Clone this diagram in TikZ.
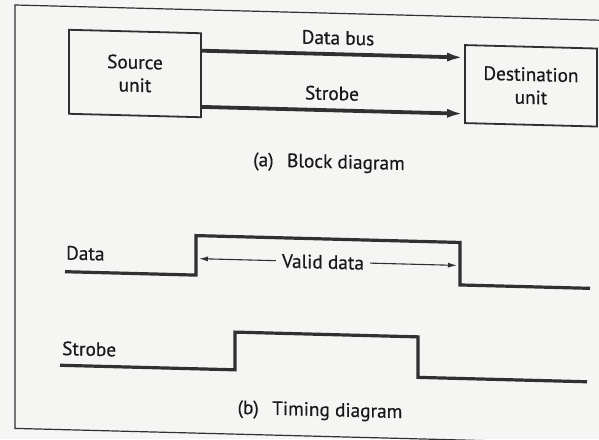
\documentclass[tikz,border=0pt]{standalone}
\usepackage{fontspec}
\setmainfont{PT Sans}
\newfontfamily\printfont{PT Sans}[FakeBold=0.5]
\usetikzlibrary{arrows.meta,calc}
\definecolor{paper}{RGB}{245,245,243}
\definecolor{ink}{RGB}{48,48,48}
\definecolor{inktext}{RGB}{25,25,25}
\tikzset{
  lbl/.style={font=\printfont\fontsize{19.3}{23}\selectfont, text=inktext, inner sep=0pt},
  unitbox/.style={lbl, draw=ink, line width=1.8pt, minimum width=132pt, align=center},
  bus/.style={draw=ink, line width=3.8pt, -{Latex[length=17pt,width=9pt]}},
  wave/.style={draw=ink, line width=3.2pt, line join=miter},
  span/.style={draw=ink, line width=1.1pt, -{Latex[length=9pt,width=5pt]}},
  frame/.style={draw=ink, line width=1.2pt},
}
\begin{document}
\begin{tikzpicture}[x=1pt,y=-1pt]
\useasboundingbox (0,0) rectangle (599,439);
\fill[paper] (0,0) rectangle (599,439);
\clip (0,0) rectangle (599,439);
% the printed figure sits slightly skewed on the page
\begin{scope}[cm={1,-0.026,0,1,(0,0)}, transform shape]
  \draw[frame] (15,4.6) rectangle (660,428);

  % (a) block diagram
  \node[unitbox, minimum height=84pt] (src) at (135,70) {Source\\unit};
  \node[unitbox, minimum height=78pt] (dst) at (531,72) {Destination\\unit};
  \draw[bus] ($(src.north east)!0.214!(src.south east)$) -- ($(dst.north west)!0.167!(dst.south west)$);
  \draw[bus] ($(src.north east)!0.869!(src.south east)$) -- ($(dst.north west)!0.872!(dst.south west)$);
  \node[lbl, anchor=base] (buslbl) at (338,35.7) {Data bus};
  \node[lbl, anchor=base] (strlbl) at (332,91.4) {Strobe};
  \node[lbl, anchor=base] (capa) at (329,159.5) {(a)\hspace{0.7em}Block diagram};

  % (b) timing diagram
  \draw[wave] (65,270) -- (196,270) -- (196,230.5) -- (460,230.5) -- (460,273) -- (590,273);
  \draw[wave] (60,363.7) -- (235,363.7) -- (235,326) -- (418,326) -- (418,366.5) -- (587,366.5);
  \node[lbl, anchor=base west] (dlbl) at (66,257.8) {Data};
  \node[lbl, anchor=base west] (slbl) at (62,353.4) {Strobe};
  \node[lbl, inner xsep=6pt] (valid) at (323,253.5) {Valid data};
  \coordinate (vl) at (199,253.5);
  \coordinate (vr) at (457,253.5);
  \draw[span] (valid) -- (vl);
  \draw[span] (valid) -- (vr);
  \node[lbl, anchor=base] (capb) at (320,407.7) {(b)\hspace{0.7em}Timing diagram};
\end{scope}
\end{tikzpicture}
\end{document}
